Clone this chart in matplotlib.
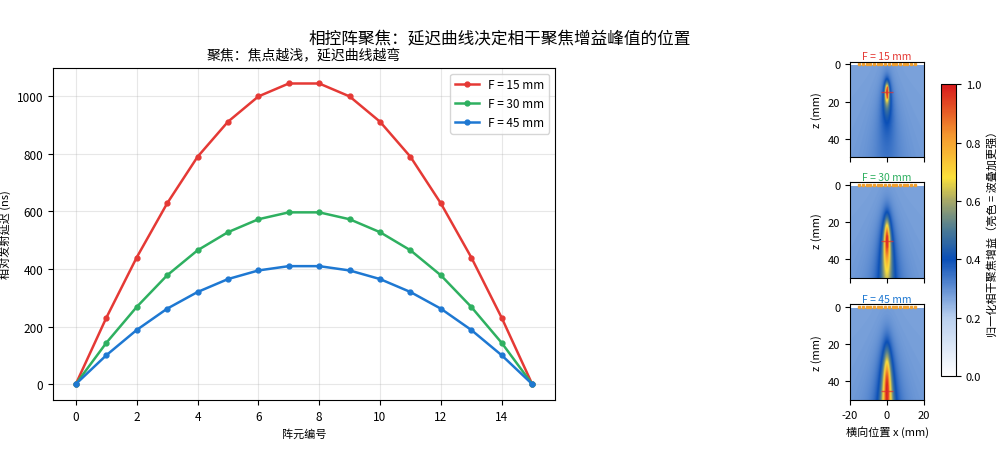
import numpy as np
import matplotlib.pyplot as plt
from matplotlib.colors import LinearSegmentedColormap

plt.rcParams['font.family'] = ['Noto Sans CJK SC', 'DejaVu Sans']
plt.rcParams['axes.unicode_minus'] = False

# 阵元编号与各焦距下的延迟 (ns)
elem_idx = np.arange(16)
delay_f15 = [0, 230, 440, 628, 790, 912, 1000, 1045, 1045, 1000, 912, 790, 628, 440, 230, 0]
delay_f30 = [0, 143, 268, 378, 465, 528, 573, 597, 597, 573, 528, 465, 378, 268, 143, 0]
delay_f45 = [0, 100, 188, 262, 320, 365, 395, 410, 410, 395, 365, 320, 262, 188, 100, 0]
focus_mm = [15, 30, 45]
labels = ['F = 15 mm', 'F = 30 mm', 'F = 45 mm']
colors = ['#e53935', '#2eb060', '#1e78d2']

# 阵元横向位置 (mm)
elem_x = np.arange(-15, 16, 2)

cmap = LinearSegmentedColormap.from_list('gain', [
    (0.0, '#ffffff'), (0.2, '#b8cfee'), (0.4, '#0a4fb7'), (0.5, '#4a7a95'),
    (0.6, '#a6a868'), (0.68, '#fbe03a'), (0.82, '#f59b30'), (1.0, '#d7191c')])

fig = plt.figure(figsize=(10, 4.64), dpi=100)
fig.suptitle('相控阵聚焦：延迟曲线决定相干聚焦增益峰值的位置', fontsize=12, x=0.5, y=0.935)

ax = fig.add_axes([0.053, 0.136, 0.502, 0.716])
for d, lab, c in zip([delay_f15, delay_f30, delay_f45], labels, colors):
    ax.plot(elem_idx, d, '-o', color=c, lw=1.8, ms=3.5, label=lab)
ax.set_title('聚焦：焦点越浅，延迟曲线越弯', fontsize=10)
ax.set_xlabel('阵元编号', fontsize=8)
ax.set_ylabel('相对发射延迟 (ns)', fontsize=8)
ax.tick_params(labelsize=8.5)
ax.set_ylim(-55, 1100)
ax.grid(alpha=0.3)
ax.legend(fontsize=8.5, loc='upper right')

# 到达时间差的离散度 -> 相干增益
xs = np.linspace(-20, 20, 201)
zs = np.linspace(0.5, 50, 250)
X, Z = np.meshgrid(xs, zs)
sigma = 0.45

tops = [0.659, 0.399, 0.136]
for i, (F, lab, c) in enumerate(zip(focus_mm, labels, colors)):
    rF = np.sqrt(elem_x ** 2 + F ** 2)
    err = np.sqrt((X[..., None] - elem_x) ** 2 + Z[..., None] ** 2) - rF
    spread = err.std(axis=-1)
    gain = 1.0 / (1.0 + (spread / sigma) ** 2)
    val = 0.27 + 0.73 * gain

    a = fig.add_axes([0.85, tops[i], 0.074, 0.206])
    a.imshow(val, extent=[-20, 20, 50, 0.5], cmap=cmap, vmin=0, vmax=1,
             aspect='auto', interpolation='bilinear')
    a.plot(elem_x, np.zeros_like(elem_x), 's', color='#f0a030', ms=1.5)
    a.plot([0], [F], '+', color='#e03030', ms=9, mew=1.0, alpha=0.7)
    a.set_xlim(-20, 20)
    a.set_ylim(50, -1.5)
    a.set_yticks([0, 20, 40])
    a.set_xticks([-20, 0, 20])
    a.set_title(lab, fontsize=7.5, color=c, pad=2)
    a.set_ylabel('z (mm)', fontsize=8)
    a.tick_params(labelsize=8)
    if i < 2:
        a.set_xticklabels([])
    else:
        a.set_xlabel('横向位置 x (mm)', fontsize=8)

cax = fig.add_axes([0.941, 0.1875, 0.015, 0.629])
sm = plt.cm.ScalarMappable(cmap=cmap, norm=plt.Normalize(0, 1))
cb = fig.colorbar(sm, cax=cax)
cb.set_label('归一化相干聚焦增益（亮色 = 波叠加更强）', fontsize=8)
cb.ax.tick_params(labelsize=8)

fig.savefig('out.png', dpi=100)
